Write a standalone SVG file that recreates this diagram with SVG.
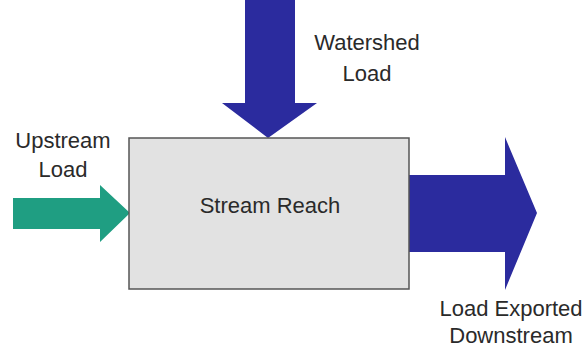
<svg xmlns="http://www.w3.org/2000/svg" width="587" height="349" viewBox="0 0 587 349">
<style>
text{font-family:"Liberation Sans",Arial,sans-serif;font-size:22px;fill:#2a2a2a;text-anchor:middle}
.blue{fill:#2b2b9e}
.teal{fill:#1f9e82}
</style>
<rect width="587" height="349" fill="#fff"/>
<g id="connectors">
<polygon id="upstream-arrow" class="teal" points="13,198 100,198 100,185 130,213 100,242 100,229 13,229"/>
<polygon id="watershed-arrow" class="blue" points="245,0 295,0 295,103 317,103 268,138 222,103 245,103"/>
<polygon id="export-arrow" class="blue" points="409,175 505,175 505,137 537,213 505,290 505,252 409,252"/>
</g>
<g id="stream-reach">
<rect x="129" y="138" width="280" height="151" fill="#e2e2e2" stroke="#555" stroke-width="1.5"/>
<text x="270" y="213">Stream Reach</text>
</g>
<g id="upstream-label">
<text x="63" y="148">Upstream</text>
<text x="63" y="177">Load</text>
</g>
<g id="watershed-label">
<text x="367" y="50">Watershed</text>
<text x="367" y="81">Load</text>
</g>
<g id="export-label">
<text x="511" y="316">Load Exported</text>
<text x="511" y="343">Downstream</text>
</g>
</svg>
